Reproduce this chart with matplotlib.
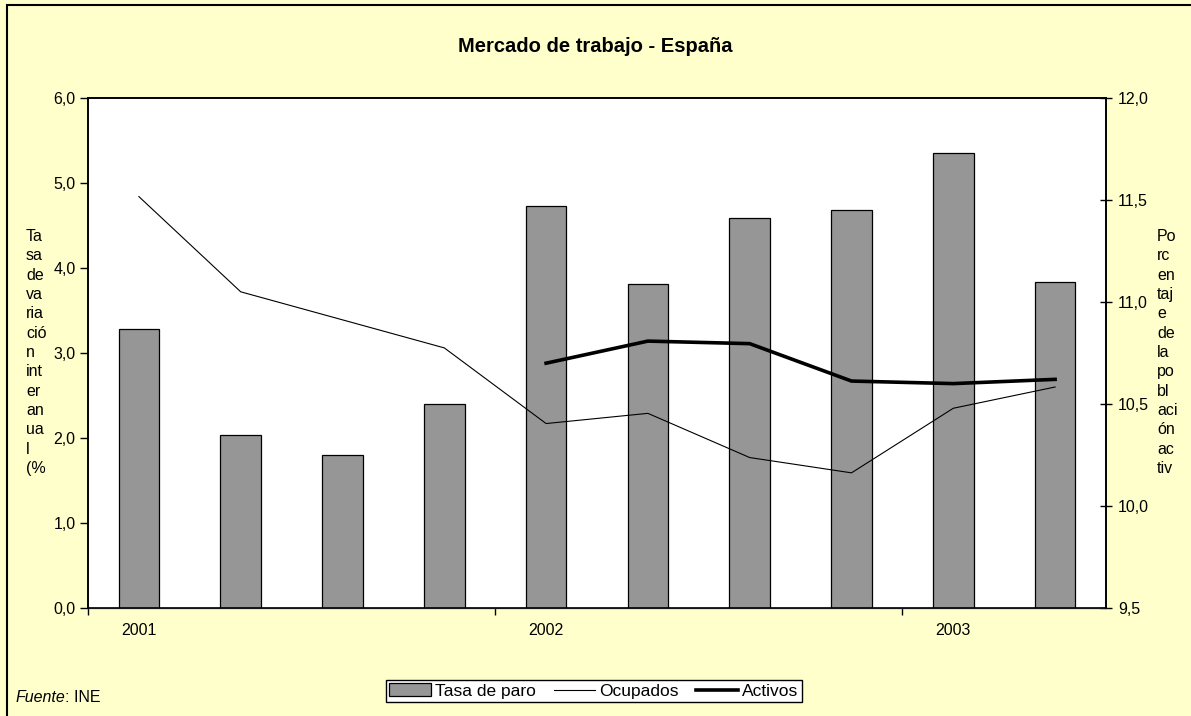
import numpy as np
import matplotlib.pyplot as plt
from matplotlib.patches import Rectangle
from matplotlib.ticker import FuncFormatter

plt.rcParams['font.family'] = ['Liberation Sans', 'DejaVu Sans']

# Quarterly data, 2001 Q1 - 2003 Q2
quarters = ['2001 T1', '2001 T2', '2001 T3', '2001 T4',
            '2002 T1', '2002 T2', '2002 T3', '2002 T4',
            '2003 T1', '2003 T2']
year_labels = ['2001', '2002', '2003']

# Tasa de paro (% de la poblacion activa), right axis
tasa_paro = [10.87, 10.35, 10.25, 10.50, 11.47, 11.09, 11.41, 11.45, 11.73, 11.10]
# Tasa de variacion interanual (%), left axis
ocupados = [4.84, 3.72, 3.39, 3.06, 2.17, 2.29, 1.77, 1.59, 2.35, 2.60]
activos = [np.nan, np.nan, np.nan, np.nan, 2.88, 3.14, 3.11, 2.67, 2.64, 2.69]

bg = '#FFFFCC'
W, H = 1191, 716
fig = plt.figure(figsize=(W / 100, H / 100), dpi=100, facecolor=bg)

# frame around the chart area
fig.patches.append(Rectangle((7 / W, -0.1), 1.2, 1.1 - 5 / H, transform=fig.transFigure,
                             fill=False, edgecolor='black', linewidth=1.5))

ax2 = fig.add_axes([88 / W, 1 - 608 / H, 1018 / W, 510 / H])
ax = ax2.twinx()
ax.set_zorder(ax2.get_zorder() + 1)
ax.patch.set_visible(False)
ax2.set_facecolor('white')

x = np.arange(len(quarters))

# bars on the right axis
ax2.bar(x, tasa_paro, width=0.4, color='#969696', edgecolor='black', linewidth=0.9,
        label='Tasa de paro')
ax2.set_ylim(9.5, 12.0)
ax2.set_yticks(np.arange(9.5, 12.01, 0.5))

# lines on the left axis
ax.plot(x, ocupados, color='black', linewidth=0.8, label='Ocupados')
ax.plot(x, activos, color='black', linewidth=2.6, label='Activos')
ax.set_ylim(0, 6)
ax.set_yticks(np.arange(0, 6.01, 1))
ax.set_xlim(-0.5, len(quarters) - 0.5)

comma = FuncFormatter(lambda v, p: f'{v:.1f}'.replace('.', ','))

fs = 11.5

# twinx puts ax on the right; swap sides so lines use the left scale
ax.yaxis.tick_left()
ax.yaxis.set_label_position('left')
ax2.yaxis.tick_right()
ax.yaxis.set_major_formatter(comma)
ax2.yaxis.set_major_formatter(comma)
ax.tick_params(axis='y', direction='out', length=6, width=1, labelsize=fs, pad=3)
ax2.tick_params(axis='y', direction='inout', length=9, width=1, labelsize=fs, pad=4,
                left=False, labelleft=False, right=True, labelright=True)

# x axis: ticks between years, labels under first quarter of each year
ax2.set_xticks([-0.5, 3.5, 7.5])
ax2.set_xticklabels([])
ax2.set_xticks([0, 4, 8], minor=True)
ax2.set_xticklabels(year_labels, minor=True)
ax2.tick_params(axis='x', which='major', direction='out', length=5, width=1)
ax2.tick_params(axis='x', which='minor', length=0, labelsize=fs, pad=11)
ax.tick_params(axis='x', bottom=False, labelbottom=False)

for a in (ax, ax2):
    for s in a.spines.values():
        s.set_color('black')
        s.set_linewidth(1.2)
ax2.spines['bottom'].set_color('#808080')
ax2.spines['bottom'].set_linewidth(1.0)

# title
fig.text(595 / W, 1 - 46 / H, 'Mercado de trabajo - España', ha='center', va='center',
         fontsize=14.5, fontweight='bold')

# wrapped axis labels as in the original
left_label = ['Ta', 'sa', 'de', 'va', 'ria', 'ció', 'n', 'int', 'er', 'an', 'ua', 'l', '(%']
right_label = ['Po', 'rc', 'en', 'taj', 'e', 'de', 'la', 'po', 'bl', 'aci', 'ón', 'ac', 'tiv']
fig.text(26 / W, 1 - 229 / H, '\n'.join(left_label), ha='left', va='top',
         fontsize=fs, linespacing=1.36)
fig.text(1157 / W, 1 - 229 / H, '\n'.join(right_label), ha='left', va='top',
         fontsize=fs, linespacing=1.36)

# source
fig.text(16 / W, 1 - 698 / H, 'Fuente', ha='left', va='center', fontsize=fs,
         style='italic')
fig.text(65 / W, 1 - 698 / H, ': INE', ha='left', va='center', fontsize=fs)

# legend
h2, l2 = ax2.get_legend_handles_labels()
h1, l1 = ax.get_legend_handles_labels()
leg = fig.legend(h2 + h1, l2 + l1, loc='center', bbox_to_anchor=(594 / W, 1 - 691 / H),
                 ncol=3, fontsize=12.5, frameon=True, fancybox=False, edgecolor='black',
                 framealpha=1, handlelength=2.4, handletextpad=0.25, columnspacing=1.0,
                 borderpad=0.2, borderaxespad=0)
leg.get_frame().set_linewidth(1.0)

fig.savefig('out.png', dpi=100, facecolor=bg)
